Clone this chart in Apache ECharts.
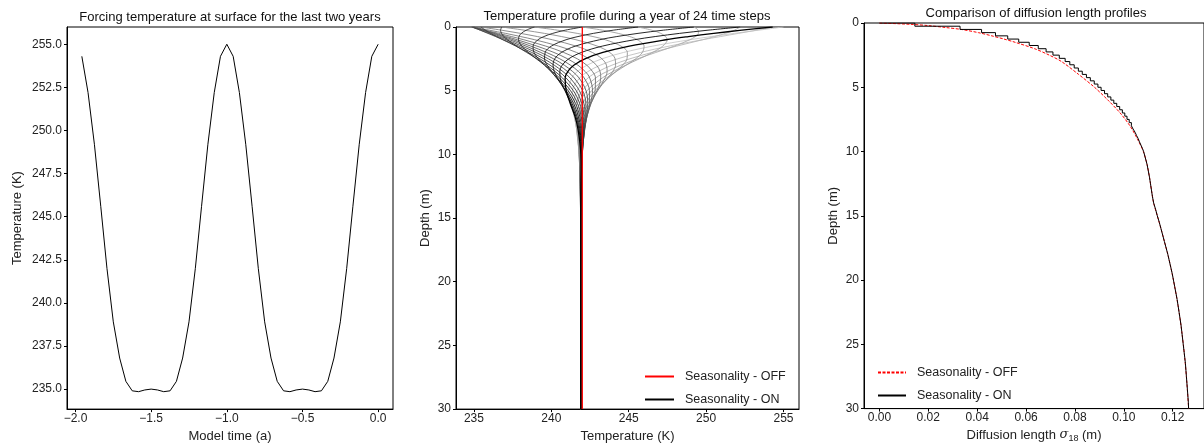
<!DOCTYPE html>
<html><head><meta charset="utf-8">
<script src="https://cdn.jsdelivr.net/npm/echarts@6/dist/echarts.min.js"></script>
<style>html,body{margin:0;padding:0;background:#fff;}#c{width:1204px;height:448px;}</style>
</head><body><div id="c"></div>
<script>
// ---------- Panel 1: surface forcing, last two years ----------
const timeYears = [-1.958,-1.917,-1.875,-1.833,-1.792,-1.750,-1.708,-1.667,-1.625,-1.583,-1.542,-1.500,-1.458,-1.417,-1.375,-1.333,-1.292,-1.250,-1.208,-1.167,-1.125,-1.083,-1.042,-1.000,-0.958,-0.917,-0.875,-0.833,-0.792,-0.750,-0.708,-0.667,-0.625,-0.583,-0.542,-0.500,-0.458,-0.417,-0.375,-0.333,-0.292,-0.250,-0.208,-0.167,-0.125,-0.083,-0.042,0.000];
const forcingK = [254.3,252.2,249.2,245.6,242.0,238.9,236.8,235.45,234.9,234.85,234.95,235.0,234.95,234.85,234.9,235.45,236.8,238.9,242.0,245.6,249.2,252.2,254.3,255.0,254.3,252.2,249.2,245.6,242.0,238.9,236.8,235.45,234.9,234.85,234.95,235.0,234.95,234.85,234.9,235.45,236.8,238.9,242.0,245.6,249.2,252.2,254.3,255.0];
const p1TempTicks = [235.0,237.5,240.0,242.5,245.0,247.5,250.0,252.5,255.0];
const p1TimeTicks = [-2.0,-1.5,-1.0,-0.5,0.0];

// ---------- Panel 2: temperature profiles, 24 time steps (columns = step 0..23) ----------
const profileDepthM = [0,0.25,0.5,0.75,1,1.5,2,2.5,3,3.5,4,5,6,7,8,10,12,15,30];
const prof_0m    = [255.00,254.30,252.20,249.20,245.60,242.00,238.90,236.80,235.45,234.90,234.85,234.95,235.00,234.95,234.85,234.90,235.45,236.80,238.90,242.00,245.60,249.20,252.20,254.30];
const prof_0_25m = [253.39,253.24,251.82,249.48,246.49,243.31,240.41,238.26,236.78,235.99,235.72,235.67,235.64,235.56,235.43,235.40,235.73,236.72,238.38,240.90,244.00,247.24,250.12,252.31];
const prof_0_5m  = [251.82,252.10,251.25,249.50,247.07,244.32,241.67,239.55,238.00,237.04,236.59,236.39,236.28,236.15,235.99,235.90,236.07,236.78,238.06,240.09,242.72,245.60,248.29,250.49];
const prof_0_75m = [250.33,250.93,250.55,249.30,247.38,245.06,242.69,240.66,239.10,238.02,237.42,237.10,236.91,236.73,236.55,236.40,236.45,236.93,237.91,239.52,241.72,244.23,246.71,248.85];
const prof_1m    = [248.95,249.77,249.77,248.95,247.48,245.56,243.49,241.59,240.06,238.93,238.22,237.79,237.52,237.30,237.08,236.90,236.86,237.16,237.88,239.14,240.95,243.12,245.36,247.40];
const prof_1_5m  = [246.55,247.61,248.10,247.94,247.20,245.99,244.50,242.97,241.60,240.47,239.64,239.07,238.67,238.36,238.09,237.86,237.70,237.74,238.09,238.82,240.00,241.55,243.30,245.04];
const prof_2m    = [244.66,245.76,246.49,246.75,246.53,245.88,244.91,243.77,242.65,241.63,240.80,240.17,239.69,239.32,239.01,238.73,238.51,238.41,238.51,238.88,239.60,240.65,241.94,243.33];
const prof_2_5m  = [243.27,244.28,245.07,245.56,245.68,245.44,244.89,244.12,243.27,242.43,241.68,241.05,240.55,240.15,239.81,239.52,239.26,239.08,239.03,239.17,239.56,240.22,241.12,242.17];
const prof_3m    = [242.30,243.16,243.91,244.48,244.80,244.83,244.60,244.15,243.56,242.92,242.29,241.72,241.24,240.84,240.49,240.19,239.92,239.70,239.57,239.56,239.73,240.11,240.70,241.45];
const prof_3_5m  = [241.68,242.36,243.02,243.58,243.98,244.18,244.17,243.96,243.60,243.15,242.66,242.19,241.76,241.38,241.05,240.75,240.49,240.25,240.07,239.98,240.01,240.19,240.55,241.06];
const prof_4m    = [241.32,241.83,242.37,242.87,243.29,243.57,243.69,243.65,243.47,243.19,242.85,242.48,242.12,241.79,241.48,241.21,240.95,240.72,240.53,240.39,240.33,240.39,240.57,240.89];
const prof_5m    = [241.12,241.36,241.66,241.99,242.31,242.60,242.82,242.96,243.00,242.95,242.83,242.66,242.46,242.24,242.02,241.81,241.61,241.42,241.24,241.08,240.96,240.89,240.88,240.96];
const prof_6m    = [241.26,241.33,241.46,241.63,241.82,242.03,242.22,242.38,242.50,242.56,242.57,242.53,242.46,242.35,242.23,242.10,241.96,241.83,241.69,241.56,241.44,241.34,241.26,241.22];
const prof_7m    = [241.48,241.47,241.50,241.56,241.66,241.77,241.89,242.02,242.13,242.22,242.28,242.31,242.31,242.29,242.24,242.18,242.10,242.02,241.93,241.83,241.74,241.65,241.58,241.52];
const prof_8m    = [241.68,241.64,241.63,241.63,241.66,241.71,241.77,241.84,241.92,241.99,242.06,242.11,242.14,242.16,242.16,242.14,242.11,242.07,242.02,241.96,241.90,241.84,241.78,241.72];
const prof_10m   = [241.89,241.86,241.84,241.81,241.80,241.79,241.79,241.80,241.82,241.84,241.87,241.89,241.92,241.95,241.97,241.99,242.00,242.00,242.00,241.99,241.98,241.96,241.94,241.91];
const prof_12m   = [241.93,241.92,241.91,241.90,241.89,241.88,241.87,241.87,241.86,241.86,241.86,241.86,241.87,241.88,241.89,241.90,241.91,241.92,241.93,241.94,241.94,241.94,241.94,241.94];
const prof_15m   = [241.91,241.91,241.91,241.91,241.91,241.91,241.91,241.90,241.90,241.90,241.89,241.89,241.89,241.89,241.89,241.89,241.89,241.89,241.89,241.90,241.90,241.90,241.91,241.91];
const prof_30m   = [241.90,241.90,241.90,241.90,241.90,241.90,241.90,241.90,241.90,241.90,241.90,241.90,241.90,241.90,241.90,241.90,241.90,241.90,241.90,241.90,241.90,241.90,241.90,241.90];
const offTempK = [242.0, 242.0];
const offDepthM = [0, 30];
const p2TempTicks = [235,240,245,250,255];

// ---------- Panel 3: diffusion length profiles ----------
const sigOffDepth = [0,0.1,0.2,0.35,0.5,0.75,1,1.25,1.5,2,2.5,3,4,5,6,7,8,9,10,11,12,13,14,15,16,17,18,19,20,22,24,26,28,30];
const sigOff      = [0,0.0125,0.0200,0.0270,0.0335,0.0405,0.0460,0.0510,0.0555,0.0635,0.0695,0.0745,0.0815,0.0880,0.0935,0.0985,0.1025,0.1055,0.1080,0.1095,0.1105,0.1113,0.1122,0.1137,0.1152,0.1166,0.1180,0.1192,0.1203,0.1222,0.1237,0.1249,0.1258,0.1265];
const sigOnDepth = [0,0.25,0.5,0.75,1,1.25,1.5,1.75,2,2.25,2.5,2.75,3,3.25,3.5,3.75,4,4.25,4.5,4.75,5,5.25,5.5,5.75,6,6.25,6.5,6.75,7,7.25,7.5,7.75,8,8.25,8.5,8.75,9,9.25,9.5,9.75,10,10.5,11,11.5,12,12.5,13,13.5,14,14.5,15,15.5,16,16.5,17,17.5,18,18.5,19,19.5,20,20.5,21,21.5,22,22.5,23,23.5,24,24.5,25,25.5,26,26.5,27,27.5,28,28.5,29,29.5,30];
const sigOn      = [0,0.0145,0.0330,0.0418,0.0475,0.0525,0.0570,0.0613,0.0650,0.0682,0.0710,0.0736,0.0760,0.0779,0.0797,0.0814,0.0830,0.0847,0.0863,0.0879,0.0894,0.0907,0.0921,0.0934,0.0947,0.0959,0.0971,0.0983,0.0994,0.1004,0.1013,0.1022,0.1031,0.1038,0.1046,0.1052,0.1059,0.1064,0.1070,0.1076,0.1081,0.1088,0.1095,0.1100,0.1105,0.1109,0.1113,0.1117,0.1122,0.1130,0.1137,0.1145,0.1152,0.1159,0.1166,0.1173,0.1180,0.1186,0.1192,0.1198,0.1203,0.1208,0.1213,0.1218,0.1222,0.1226,0.1230,0.1234,0.1237,0.1240,0.1243,0.1246,0.1249,0.1252,0.1254,0.1256,0.1258,0.1260,0.1262,0.1264,0.1265];
const p3SigmaTicks = [0,0.02,0.04,0.06,0.08,0.10,0.12];

// ---------- build ----------
const profileRows = [prof_0m,prof_0_25m,prof_0_5m,prof_0_75m,prof_1m,prof_1_5m,prof_2m,prof_2_5m,prof_3m,prof_3_5m,prof_4m,prof_5m,prof_6m,prof_7m,prof_8m,prof_10m,prof_12m,prof_15m,prof_30m];
const FONT = "'Liberation Sans', Arial, sans-serif";
const legendLabels = {p2off:'Seasonality - OFF', p2on:'Seasonality - ON', p3off:'Seasonality - OFF', p3on:'Seasonality - ON'};
const fmt1 = v => (v < -1e-9 ? '\u2212' : '') + Math.abs(v).toFixed(1);

function axisBase(extra) {
  return Object.assign({
    type: 'value',
    splitLine: {show: false},
    axisLine: {show: true, onZero: false, lineStyle: {color: '#000', width: 1}},
    axisTick: {show: true, inside: false, length: 3, lineStyle: {color: '#000', width: 1}},
    axisLabel: {color: '#222', fontSize: 12, fontFamily: FONT},
    nameTextStyle: {color: '#222', fontSize: 13, fontFamily: FONT},
    nameLocation: 'middle'
  }, extra);
}

const series = [];
series.push({
  type: 'line', xAxisIndex: 0, yAxisIndex: 0, symbol: 'none', silent: true,
  data: timeYears.map((t, i) => [t, forcingK[i]]),
  itemStyle: {color: '#000'},
  lineStyle: {color: '#000', width: 1}
});
const nSteps = prof_0m.length;
for (let s = 0; s < nSteps; s++) {
  const g = Math.round(200 * (1 - s / (nSteps - 1)));
  const col = 'rgb(' + g + ',' + g + ',' + g + ')';
  series.push({
    type: 'line', name: s === nSteps - 1 ? 'p2on' : undefined,
    xAxisIndex: 1, yAxisIndex: 1, symbol: 'none', silent: true, smooth: 0.35,
    data: profileDepthM.map((z, j) => [profileRows[j][s], z]),
    itemStyle: {color: col, opacity: 0},
    lineStyle: {color: col, width: s === nSteps - 1 ? 1.3 : 0.9},
    z: 2
  });
}
series.push({
  type: 'line', name: 'p2off', xAxisIndex: 1, yAxisIndex: 1, symbol: 'none', silent: true,
  data: offDepthM.map((z, i) => [offTempK[i], z]),
  itemStyle: {color: '#ff0000', opacity: 0},
  lineStyle: {color: '#ff0000', width: 1.3}, z: 3
});
series.push({
  type: 'line', name: 'p3off', xAxisIndex: 2, yAxisIndex: 2, symbol: 'none', silent: true, smooth: 0.3,
  data: sigOffDepth.map((z, i) => [sigOff[i], z]),
  itemStyle: {color: '#ff0000', opacity: 0},
  lineStyle: {color: '#ff0000', width: 1, type: [3, 1.5]}, z: 2
});
series.push({
  type: 'line', name: 'p3on', xAxisIndex: 2, yAxisIndex: 2, symbol: 'none', silent: true, step: 'end',
  data: sigOnDepth.map((z, i) => [sigOn[i], z]),
  itemStyle: {color: '#000', opacity: 0},
  lineStyle: {color: '#000', width: 1}, z: 3
});

const titleStyle = {fontSize: 13, fontWeight: 'normal', color: '#111', fontFamily: FONT};
const legendCommon = {orient: 'vertical', padding: 0, itemHeight: 10, itemGap: 10, selectedMode: false,
  formatter: n => legendLabels[n], itemStyle: {opacity: 0},
  textStyle: {color: '#222', fontSize: 12.5, fontFamily: FONT, padding: [0, 0, 0, 6]}};

const option = {
  animation: false,
  backgroundColor: '#fff',
  textStyle: {fontFamily: FONT},
  title: [
    {text: 'Forcing temperature at surface for the last two years', left: 230, top: 11, textAlign: 'center', padding: 0, textStyle: titleStyle},
    {text: 'Temperature profile during a year of 24 time steps', left: 627, top: 10, textAlign: 'center', padding: 0, textStyle: titleStyle},
    {text: 'Comparison of diffusion length profiles', left: 1036, top: 7, textAlign: 'center', padding: 0, textStyle: titleStyle}
  ],
  grid: [
    {left: 67, top: 27, width: 326, height: 389, show: true, borderColor: '#000', borderWidth: 1},
    {left: 456, top: 27, width: 343, height: 388, show: true, borderColor: '#000', borderWidth: 1},
    {left: 864, top: 23, width: 344, height: 389, show: true, borderColor: '#000', borderWidth: 1}
  ],
  xAxis: [
    axisBase({gridIndex: 0, min: -2.056, max: 0.098, name: 'Model time (a)', nameGap: 19,
      axisTick: {show: true, length: 3, customValues: p1TimeTicks, lineStyle: {color: '#000'}},
      axisLabel: {color: '#222', fontSize: 12, fontFamily: FONT, margin: 4, customValues: p1TimeTicks, formatter: fmt1}}),
    axisBase({gridIndex: 1, min: 233.84, max: 256.0, name: 'Temperature (K)', nameGap: 18,
      axisTick: {show: true, length: 3, customValues: p2TempTicks, lineStyle: {color: '#000'}},
      axisLabel: {color: '#222', fontSize: 12, fontFamily: FONT, margin: 4, customValues: p2TempTicks}}),
    axisBase({gridIndex: 2, min: -0.0063, max: 0.1328, nameGap: 18,
      name: '{a|Diffusion length }{s|\u03c3}{b|18}{a| (m)}',
      nameTextStyle: {color: '#222', fontSize: 13, fontFamily: FONT, rich: {
        a: {fontSize: 13, fontFamily: FONT, color: '#222', lineHeight: 16},
        s: {fontSize: 13, fontFamily: 'DejaVu Serif', fontStyle: 'italic', color: '#222', lineHeight: 16},
        b: {fontSize: 9, fontFamily: FONT, color: '#222', lineHeight: 6, verticalAlign: 'bottom'}}},
      axisTick: {show: true, length: 3, customValues: p3SigmaTicks, lineStyle: {color: '#000'}},
      axisLabel: {color: '#222', fontSize: 12, fontFamily: FONT, margin: 3, customValues: p3SigmaTicks, formatter: v => v.toFixed(2)}})
  ],
  yAxis: [
    axisBase({gridIndex: 0, min: 233.84, max: 256.0, name: 'Temperature (K)', nameGap: 43,
      axisTick: {show: true, length: 3, customValues: p1TempTicks, lineStyle: {color: '#000'}},
      axisLabel: {color: '#222', fontSize: 12, fontFamily: FONT, margin: 5, customValues: p1TempTicks, formatter: v => v.toFixed(1)}}),
    axisBase({gridIndex: 1, min: 0, max: 30, interval: 5, inverse: true, name: 'Depth (m)', nameGap: 24,
      axisLabel: {color: '#222', fontSize: 12, fontFamily: FONT, margin: 5}}),
    axisBase({gridIndex: 2, min: 0, max: 30, interval: 5, inverse: true, name: 'Depth (m)', nameGap: 24,
      axisLabel: {color: '#222', fontSize: 12, fontFamily: FONT, margin: 5}})
  ],
  legend: [
    Object.assign({}, legendCommon, {data: ['p2off', 'p2on'], left: 644, top: 370, itemWidth: 29}),
    Object.assign({}, legendCommon, {data: ['p3off', 'p3on'], left: 877, top: 366, itemWidth: 28})
  ],
  series: series
};
const chart = echarts.init(document.getElementById('c'), null, {renderer: 'canvas', width: 1204, height: 448});
chart.setOption(option);
</script></body></html>
